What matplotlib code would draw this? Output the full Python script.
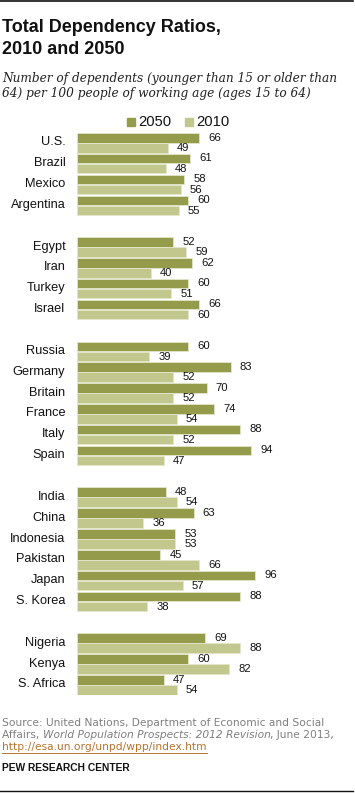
import matplotlib
matplotlib.use("Agg")
import matplotlib.pyplot as plt
from matplotlib.lines import Line2D

countries = ["U.S.", "Brazil", "Mexico", "Argentina", "",
             "Egypt", "Iran", "Turkey", "Israel", "",
             "Russia", "Germany", "Britain", "France", "Italy", "Spain", "",
             "India", "China", "Indonesia", "Pakistan", "Japan", "S. Korea", "",
             "Nigeria", "Kenya", "S. Africa"]
v2050 = [66, 61, 58, 60, None,
         52, 62, 60, 66, None,
         60, 83, 70, 74, 88, 94, None,
         48, 63, 53, 45, 96, 88, None,
         69, 60, 47]
v2010 = [49, 48, 56, 55, None,
         59, 40, 51, 60, None,
         39, 52, 52, 54, 52, 47, None,
         54, 36, 53, 66, 57, 38, None,
         88, 82, 54]
series_labels = ["2050", "2010"]

C2050 = "#949b4a"
C2010 = "#c2c78e"
EDGE = "#e4e6cc"

W, H = 355, 793
fig = plt.figure(figsize=(W / 100, H / 100), dpi=100)

SANS = ["Liberation Sans", "DejaVu Sans"]

def fy(px):
    return 1 - px / H

def fx(px):
    return px / W

# axes placement in pixels
x0_px = 76.5
scale = 1.86  # px per unit
pitch = 20.85
top_px = 133
ymax = 26.94
ax = fig.add_axes([fx(x0_px), fy(top_px + ymax * pitch), 100 * scale / W, ymax * pitch / H])
ax.set_xlim(0, 100)
ax.set_ylim(ymax, 0)
ax.axis("off")

bh = 0.456
for i, (c, a, b) in enumerate(zip(countries, v2050, v2010)):
    if not c:
        continue
    y1 = i + 0.228
    y2 = i + 0.708
    ax.barh(y1, a, height=bh, color=C2050, edgecolor=EDGE, linewidth=0.6)
    ax.barh(y2, b, height=bh, color=C2010, edgecolor=EDGE, linewidth=0.6)
    ax.text(a + 4.9, y1 - 0.012, str(a), ha="left", va="center", fontsize=8.1,
            family=SANS, color="#111111")
    ax.text(b + 4.9, y2 + 0.012, str(b), ha="left", va="center", fontsize=8.1,
            family=SANS, color="#111111")
    ax.text(-6.0, i + 0.45, c, ha="right", va="center", fontsize=9.2,
            family=SANS, color="#111111")

# Title
fig.text(fx(2), fy(32), "Total Dependency Ratios,", fontsize=13, weight="bold",
         family=SANS, va="baseline", ha="left", color="#111111")
fig.text(fx(2), fy(54), "2010 and 2050", fontsize=13, weight="bold",
         family=SANS, va="baseline", ha="left", color="#111111")
SERIF = ["DejaVu Serif"]
fig.text(fx(2), fy(82), "Number of dependents (younger than 15 or older than",
         fontsize=8.7, style="italic", family=SERIF, va="baseline", ha="left", color="#222222")
fig.text(fx(2), fy(97), "64) per 100 people of working age (ages 15 to 64)",
         fontsize=8.7, style="italic", family=SERIF, va="baseline", ha="left", color="#222222")

# Legend
for (xs, lab, col) in [(127, series_labels[0], C2050), (185, series_labels[1], C2010)]:
    fig.patches.append(plt.Rectangle((fx(xs), fy(126)), 8 / W, 8.5 / H,
                                     transform=fig.transFigure, color=col))
    fig.text(fx(xs + 11), fy(126.5), lab, fontsize=10.6, family=SANS,
             va="baseline", ha="left", color="#111111")

# Source
GRAY = "#7f7f7f"
SRC_FS = 7.7
fig.text(fx(2), fy(726), "Source: United Nations, Department of Economic and Social",
         fontsize=SRC_FS, family=["DejaVu Sans"], color=GRAY, va="baseline")
fig.canvas.draw()
r = fig.canvas.get_renderer()
parts = [("Affairs, ", "normal"), ("World Population Prospects: 2012 Revision", "italic"),
         (", June 2013,", "normal")]
xcur = 2
for txt, st in parts:
    t = fig.text(fx(xcur), fy(738), txt, fontsize=SRC_FS, family=["DejaVu Sans"],
                 style=st, color=GRAY, va="baseline")
    bb = t.get_window_extent(renderer=r)
    xcur += bb.width
LINK = "#b8722c"
t = fig.text(fx(2), fy(750), "http://esa.un.org/unpd/wpp/index.htm", fontsize=SRC_FS,
             family=["DejaVu Sans"], color=LINK, va="baseline")
bb = t.get_window_extent(renderer=r)
fig.add_artist(Line2D([fx(2), fx(2 + bb.width)], [fy(752.5), fy(752.5)], color=LINK,
                      linewidth=0.7, transform=fig.transFigure))
fig.text(fx(2), fy(771), "PEW RESEARCH CENTER", fontsize=7.4, weight="bold",
         family=SANS, color="#111111", va="baseline")

# rules
fig.add_artist(Line2D([0, fx(353)], [fy(1.2), fy(1.2)], color="#111111", linewidth=1.2,
                      transform=fig.transFigure))
fig.add_artist(Line2D([0, fx(353)], [fy(790.8), fy(790.8)], color="#111111", linewidth=1.0,
                      transform=fig.transFigure))

fig.savefig("out.png", dpi=100)
